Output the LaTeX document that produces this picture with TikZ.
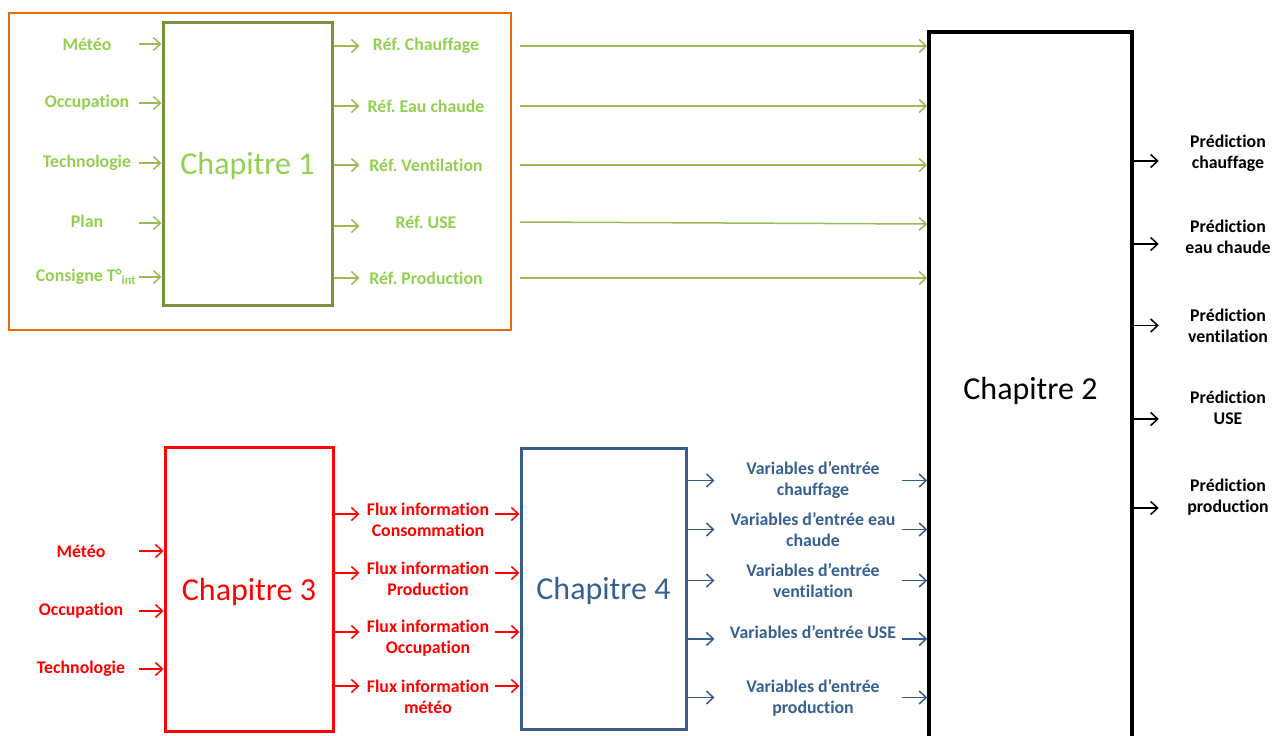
\documentclass[tikz,border=0pt]{standalone}
\usepackage{fontspec}
\setmainfont{Carlito}[Ligatures=NoCommon]
\usepackage{xcolor}
\usetikzlibrary{arrows.meta}
\frenchspacing
\definecolor{vertclair}{HTML}{92D050}
\definecolor{vertfonce}{HTML}{77933C}
\definecolor{vertfleche}{HTML}{9BBB59}
\definecolor{orangecadre}{HTML}{E46C0A}
\definecolor{bleutexte}{HTML}{376092}
\definecolor{bleucadre}{HTML}{385D8A}
\tikzset{
	chapbox/.style={
			draw=#1, line width=3pt, inner sep=0pt, text depth=0pt,
			font=\fontsize{32}{38}\selectfont
		},
	lbl/.style={
			font=\bfseries\fontsize{17.8}{21}\selectfont,
			align=center, inner sep=0pt
		},
	fl/.style={
			draw=#1, line width=1.5pt,
			-{Straight Barb[length=7pt,width=13pt]}
		}
}

\begin{document}
\begin{tikzpicture}[x=1pt,y=-1pt]
        \useasboundingbox (0,0) rectangle (1272,736);
        \draw[orangecadre, line width=2pt] (9,13) rectangle (511,330);
        \node[chapbox=vertfonce, text=vertclair, minimum width=169pt, minimum height=283pt] (C_1) at (247.5,163.5) {Chapitre 1};
        \node[chapbox=black, line width=3.5pt, minimum width=203pt, minimum height=712pt] (C_2) at (1030.5,388) {Chapitre 2};
        \node[chapbox=red, text=red, minimum width=168pt, minimum height=284pt] (C_3) at (249,589) {Chapitre 3};
        \node[chapbox=bleucadre, text=bleutexte, minimum width=165pt, minimum height=281pt] (C_4) at (603.5,588.5) {Chapitre 4};
        % entrees chapitre 1
        \node[lbl, text=vertclair] (meteo_C1) at (87,44) {Météo};
        \node[lbl, text=vertclair] (occ_C1) at (87,103) {Occupation};
        \node[lbl, text=vertclair] (techno_C1) at (87,163) {Technologie};
        \node[lbl, text=vertclair] (plan_C1) at (87,221) {Plan};
        \node[lbl, text=vertclair] (consigne_C1) at (86,277) {Consigne T°\textsubscript{int}};
        \draw[fl=vertfleche] ([xshift=-23pt]C_1.west |- meteo_C1) -- (C_1.west |- meteo_C1);
        \draw[fl=vertfleche] ([xshift=-23pt]C_1.west |- occ_C1) -- (C_1.west |- occ_C1);
        \draw[fl=vertfleche] ([xshift=-23pt]C_1.west |- techno_C1) -- (C_1.west |- techno_C1);
        \draw[fl=vertfleche] ([xshift=-23pt,yshift=-2pt]C_1.west |- plan_C1) -- ([yshift=-2pt]C_1.west |- plan_C1);
        \draw[fl=vertfleche] ([xshift=-23pt]C_1.west |- consigne_C1) -- (C_1.west |- consigne_C1);
        % sorties chapitre 1
        \node[lbl, text=vertclair] (chauff_C1) at (426,46) {Réf. Chauffage};
        \node[lbl, text=vertclair] (eau_C1) at (426,106) {Réf. Eau chaude};
        \node[lbl, text=vertclair] (venti_C1) at (426,165) {Réf. Ventilation};
        \node[lbl, text=vertclair] (use_C1) at (426,222) {Réf. USE};
        \node[lbl, text=vertclair] (prod_C1) at (426,278) {Réf. Production};
        \draw[fl=vertfleche] (C_1.east |- chauff_C1) -- +(26,0);
        \draw[fl=vertfleche] (C_1.east |- eau_C1) -- +(26,0);
        \draw[fl=vertfleche] (C_1.east |- venti_C1) -- +(26,0);
        \draw[fl=vertfleche] ([yshift=-4pt]C_1.east |- use_C1) -- +(26,0);
        \draw[fl=vertfleche] (C_1.east |- prod_C1) -- +(26,0);
        \coordinate (depart) at (520,0);
        \draw[fl=vertfleche] (depart |- chauff_C1) -- (C_2.west |- chauff_C1);
        \draw[fl=vertfleche] (depart |- eau_C1) -- (C_2.west |- eau_C1);
        \draw[fl=vertfleche] (depart |- venti_C1) -- (C_2.west |- venti_C1);
        \draw[fl=vertfleche] (depart |- use_C1) -- ([yshift=-2pt]C_2.west |- use_C1);
        \draw[fl=vertfleche] (depart |- prod_C1) -- (C_2.west |- prod_C1);
        % entrees chapitre 3
        \node[lbl, text=red] (meteo_C3) at (81,551) {Météo};
        \node[lbl, text=red] (occ_C3) at (81,611) {Occupation};
        \node[lbl, text=red] (techno_C3) at (81,669) {Technologie};
        \draw[fl=red] ([xshift=-25pt]C_3.west |- meteo_C3) -- (C_3.west |- meteo_C3);
        \draw[fl=red] ([xshift=-25pt]C_3.west |- occ_C3) -- (C_3.west |- occ_C3);
        \draw[fl=red] ([xshift=-25pt]C_3.west |- techno_C3) -- (C_3.west |- techno_C3);
        % flux chapitre 3 vers chapitre 4
        \node[lbl, text=red] (conso_C3) at (428,520) {Flux information\\Consommation};
        \node[lbl, text=red] (prod_C3) at (428,579) {Flux information\\Production};
        \node[lbl, text=red] (occup_C3) at (428,638) {Flux information\\Occupation};
        \node[lbl, text=red] (met_C3) at (428,697) {Flux information\\météo};
        \draw[fl=red] ([yshift=6pt]C_3.east |- conso_C3) -- +(25,0);
        \draw[fl=red] ([yshift=6pt]C_3.east |- prod_C3) -- +(25,0);
        \draw[fl=red] ([yshift=6pt]C_3.east |- occup_C3) -- +(25,0);
        \draw[fl=red] ([yshift=11pt]C_3.east |- met_C3) -- +(25,0);
        \draw[fl=red] ([xshift=-25pt,yshift=6pt]C_4.west |- conso_C3) -- ([yshift=6pt]C_4.west |- conso_C3);
        \draw[fl=red] ([xshift=-25pt,yshift=6pt]C_4.west |- prod_C3) -- ([yshift=6pt]C_4.west |- prod_C3);
        \draw[fl=red] ([xshift=-25pt,yshift=6pt]C_4.west |- occup_C3) -- ([yshift=6pt]C_4.west |- occup_C3);
        \draw[fl=red] ([xshift=-25pt,yshift=11pt]C_4.west |- met_C3) -- ([yshift=11pt]C_4.west |- met_C3);
        % variables chapitre 4 vers chapitre 2
        \node[lbl, text=bleutexte] (chauff_C4) at (813,480.5) {Variables d’entrée\\chauffage};
        \node[lbl, text=bleutexte] (eau_C4) at (813,529.5) {Variables d’entrée eau\\chaude};
        \node[lbl, text=bleutexte] (venti_C4) at (813,580.5) {Variables d’entrée\\ventilation};
        \node[lbl, text=bleutexte] (use_C4) at (813,632) {Variables d’entrée USE};
        \node[lbl, text=bleutexte] (prod_C4) at (813,697.5) {Variables d’entrée\\production};
        \draw[fl=bleucadre] (C_4.east |- chauff_C4) -- +(27,0);
        \draw[fl=bleucadre] (C_4.east |- eau_C4) -- +(27,0);
        \draw[fl=bleucadre] (C_4.east |- venti_C4) -- +(27,0);
        \draw[fl=bleucadre] ([yshift=-7pt]C_4.east |- use_C4) -- +(27,0);
        \draw[fl=bleucadre] (C_4.east |- prod_C4) -- +(27,0);
        \draw[fl=bleucadre] ([xshift=-25pt]C_2.west |- chauff_C4) -- (C_2.west |- chauff_C4);
        \draw[fl=bleucadre] ([xshift=-25pt]C_2.west |- eau_C4) -- (C_2.west |- eau_C4);
        \draw[fl=bleucadre] ([xshift=-25pt]C_2.west |- venti_C4) -- (C_2.west |- venti_C4);
        \draw[fl=bleucadre] ([xshift=-25pt,yshift=-7pt]C_2.west |- use_C4) -- ([yshift=-7pt]C_2.west |- use_C4);
        \draw[fl=bleucadre] ([xshift=-25pt]C_2.west |- prod_C4) -- (C_2.west |- prod_C4);
        % predictions
        \node[lbl] (chauff_C2) at (1228,153.5) {Prédiction\\chauffage};
        \node[lbl] (eau_C2) at (1228,236.5) {Prédiction\\eau chaude};
        \node[lbl] (venti_C2) at (1228,325.5) {Prédiction\\ventilation};
        \node[lbl] (use_C2) at (1228,407.5) {Prédiction\\USE};
        \node[lbl] (prod_C2) at (1228,497.5) {Prédiction\\production};
        \draw[fl=black] ([yshift=-7.5pt]C_2.east |- chauff_C2) -- +(25,0);
        \draw[fl=black] ([yshift=-7.5pt]C_2.east |- eau_C2) -- +(25,0);
        \draw[fl=black] (C_2.east |- venti_C2) -- +(25,0);
        \draw[fl=black] ([yshift=-11.5pt]C_2.east |- use_C2) -- +(25,0);
        \draw[fl=black] ([yshift=-10.5pt]C_2.east |- prod_C2) -- +(25,0);
    \end{tikzpicture}
\end{document}
